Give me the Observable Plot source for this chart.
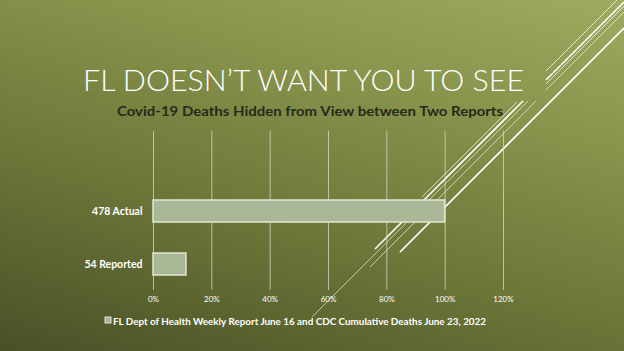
<!DOCTYPE html>
<html>
<head>
<meta charset="utf-8">
<script src="https://cdn.jsdelivr.net/npm/d3@7"></script>
<script src="https://cdn.jsdelivr.net/npm/@observablehq/plot@0.6"></script>
<style>
  html, body { margin: 0; padding: 0; }
  #slide {
    position: relative; width: 624px; height: 351px; overflow: hidden;
    background: linear-gradient(196deg, #9fab60 0%, #87924b 30%, #6c7638 62%, #4a5027 100%);
    font-family: Lato, "Open Sans", sans-serif;
  }
  #deco, #chart, #texts { position: absolute; left: 0; top: 0; }
  #chart svg { display: block; }
</style>
</head>
<body>
<div id="slide">
  <!-- decorative slide-theme lines (not chart data) -->
  <svg id="deco" width="624" height="351">
    <g stroke="#ffffff" fill="none" stroke-linecap="butt">
      <line x1="617" y1="0" x2="546" y2="71" stroke-width="1" stroke-opacity="0.7"/>
      <line x1="624" y1="2" x2="546" y2="80" stroke-width="1.6"/>
      <line x1="624" y1="6" x2="546" y2="84" stroke-width="1" stroke-opacity="0.7"/>
      <line x1="624" y1="12" x2="546" y2="90" stroke-width="1" stroke-opacity="0.6"/>
      <line x1="624" y1="28" x2="400" y2="252" stroke-width="1.7"/>
      <line x1="517" y1="102" x2="422" y2="197" stroke-width="1" stroke-opacity="0.7"/>
      <line x1="523" y1="101" x2="375" y2="249" stroke-width="1.6"/>
      <line x1="528" y1="101" x2="312" y2="317" stroke-width="1" stroke-opacity="0.6"/>
      <line x1="536" y1="101" x2="370" y2="267" stroke-width="1" stroke-opacity="0.6"/>
    </g>
  </svg>
  <div id="chart"></div>
  <svg id="texts" width="624" height="351">
    <text x="83" y="91" fill="#ffffff" font-family="Lato, sans-serif" font-weight="300" font-size="29.5" textLength="441" lengthAdjust="spacingAndGlyphs">FL DOESN’T WANT YOU TO SEE</text>
    <text x="117" y="116" fill="#262a1a" font-family="Lato, sans-serif" font-weight="700" font-size="13" textLength="386" lengthAdjust="spacingAndGlyphs">Covid-19 Deaths Hidden from View between Two Reports</text>
    <rect x="105" y="317" width="6" height="6" fill="#a9b796" stroke="#dfe6d3" stroke-width="1"/>
    <text x="113" y="324.5" fill="#ffffff" font-family="Lato, sans-serif" font-weight="700" font-size="9.6" textLength="373" lengthAdjust="spacingAndGlyphs">FL Dept of Health Weekly Report June 16 and CDC Cumulative Deaths June 23, 2022</text>
  </svg>
</div>
<script>
// Chart data
const categories = ["478 Actual", "54 Reported"];
const shareOfActual = [1.00, 0.113];
const xTicks = [0, 0.2, 0.4, 0.6, 0.8, 1.0, 1.2];

const rows = categories.map((c, i) => ({category: c, share: shareOfActual[i]}));

const chart = Plot.plot({
  width: 624,
  height: 351,
  marginLeft: 153,
  marginRight: 121,
  marginTop: 131,
  marginBottom: 61,
  style: {background: "transparent", color: "#ffffff", fontFamily: "Lato, sans-serif"},
  x: {domain: [0, 1.2], ticks: xTicks, axis: null, label: null},
  y: {type: "band", domain: categories, range: [184.5, 290.5], paddingInner: 0.585, paddingOuter: 0.2925, axis: null, label: null},
  marks: [
    Plot.gridX(xTicks, {stroke: "#d9dcc4", strokeOpacity: 0.75, strokeWidth: 1}),
    Plot.axisX({ticks: xTicks, tickFormat: d3.format(".0%"), tickSize: 0, tickPadding: 6, fontSize: 8, fill: "#ffffff", label: null}),
    Plot.axisY({tickSize: 0, tickPadding: 11, fontSize: 10.5, fontWeight: "bold", fill: "#ffffff", label: null}),
    Plot.barX(rows, {x: "share", y: "category", fill: "#a9b796", stroke: "#dfe6d3", strokeWidth: 1.5})
  ]
});
document.getElementById("chart").appendChild(chart);
</script>
</body>
</html>
